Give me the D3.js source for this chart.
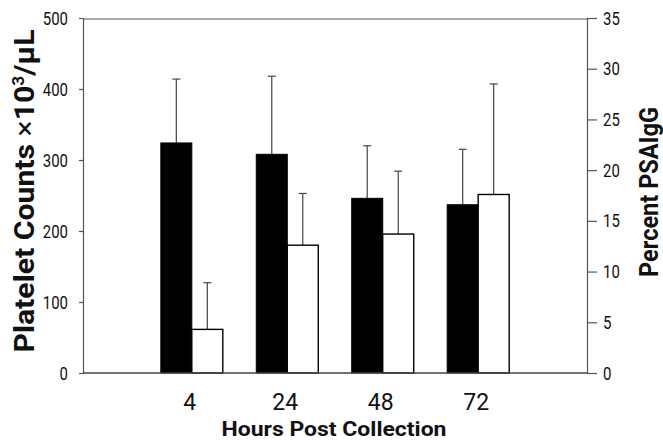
<!DOCTYPE html>
<html>
<head>
<meta charset="utf-8">
<script src="https://cdn.jsdelivr.net/npm/d3@7"></script>
<style>
  body { margin: 0; background: #fff; }
  text { font-family: Roboto, "Liberation Sans", sans-serif; fill: #111; }
</style>
</head>
<body>
<div id="chart"></div>
<script>
// hours post collection
var hours = ["4", "24", "48", "72"];
// platelet counts (x10^3/uL), black bars, left axis
var platelets = [324, 308, 246, 237];
var plateletsErr = [90, 110, 74, 78];
// percent PSAIgG, white bars, right axis
var psaigg = [4.3, 12.6, 13.7, 17.6];
var psaiggErr = [4.6, 5.1, 6.2, 10.9];
var leftTicks = [0, 100, 200, 300, 400, 500];
var rightTicks = [0, 5, 10, 15, 20, 25, 30, 35];

var width = 663, height = 440;
var mLeft = 83, mRight = 587, mTop = 18, mBottom = 373;
var barW = 31;

var svg = d3.select("#chart").append("svg")
  .attr("width", width)
  .attr("height", height);

var x = d3.scalePoint().domain(hours).range([mLeft, mRight]).padding(1.14);
var yL = d3.scaleLinear().domain([0, 500]).range([mBottom, mTop]);
var yR = d3.scaleLinear().domain([0, 35]).range([mBottom, mTop]);

// frame line on top
svg.append("line")
  .attr("x1", mLeft).attr("x2", mRight)
  .attr("y1", mTop + 1).attr("y2", mTop + 1)
  .attr("stroke", "#555").attr("stroke-width", 1.2);

// left axis
var gL = svg.append("g")
  .attr("transform", "translate(" + mLeft + ",0)")
  .call(d3.axisLeft(yL).tickValues(leftTicks).tickSize(4).tickPadding(11).tickSizeOuter(0));

// right axis
var gR = svg.append("g")
  .attr("transform", "translate(" + mRight + ",0)")
  .call(d3.axisRight(yR).tickValues(rightTicks).tickSize(10).tickPadding(6).tickSizeOuter(0));

// narrow tick labels like the condensed face of the original
svg.selectAll(".tick text")
  .style("font-size", "19px")
  .attr("textLength", function () { return this.textContent.length * 8.4; })
  .attr("lengthAdjust", "spacingAndGlyphs");

svg.selectAll(".domain").attr("stroke", "#555").attr("stroke-width", 1.2);
svg.selectAll(".tick line").attr("stroke", "#555").attr("stroke-width", 1.2);

// error bars (drawn first, bars sit on top)
function errBars(vals, errs, scale, offset) {
  var g = svg.append("g");
  g.selectAll("line.v")
    .data(vals)
    .enter()
    .append("line")
    .attr("x1", (d, i) => x(hours[i]) + offset)
    .attr("x2", (d, i) => x(hours[i]) + offset)
    .attr("y1", d => scale(d))
    .attr("y2", (d, i) => scale(d + errs[i]))
    .attr("stroke", "#444")
    .attr("stroke-width", 1.2);
  g.selectAll("line.c")
    .data(vals)
    .enter()
    .append("line")
    .attr("x1", (d, i) => x(hours[i]) + offset - 4)
    .attr("x2", (d, i) => x(hours[i]) + offset + 4)
    .attr("y1", (d, i) => scale(d + errs[i]))
    .attr("y2", (d, i) => scale(d + errs[i]))
    .attr("stroke", "#444")
    .attr("stroke-width", 1.2);
}
errBars(platelets, plateletsErr, yL, -barW / 2);
errBars(psaigg, psaiggErr, yR, barW / 2);

// black bars
svg.append("g")
  .selectAll("rect")
  .data(platelets)
  .enter()
  .append("rect")
  .attr("x", (d, i) => x(hours[i]) - barW)
  .attr("y", d => yL(d))
  .attr("width", barW)
  .attr("height", d => mBottom - yL(d))
  .attr("fill", "#000")
  .attr("stroke", "#000");

// white bars
svg.append("g")
  .selectAll("rect")
  .data(psaigg)
  .enter()
  .append("rect")
  .attr("x", (d, i) => x(hours[i]))
  .attr("y", d => yR(d))
  .attr("width", barW)
  .attr("height", d => mBottom - yR(d))
  .attr("fill", "#fff")
  .attr("stroke", "#000")
  .attr("stroke-width", 1.4);

// baseline
svg.append("line")
  .attr("x1", mLeft).attr("x2", mRight)
  .attr("y1", mBottom).attr("y2", mBottom)
  .attr("stroke", "#444").attr("stroke-width", 1.4);

// category labels
svg.append("g")
  .selectAll("text")
  .data(hours)
  .enter()
  .append("text")
  .attr("x", d => x(d) - 2)
  .attr("y", 410)
  .attr("text-anchor", "middle")
  .style("font-size", "23px")
  .text(d => d);

// axis titles
svg.append("text")
  .attr("x", 334).attr("y", 436)
  .attr("text-anchor", "middle")
  .attr("textLength", 225)
  .attr("lengthAdjust", "spacingAndGlyphs")
  .style("font-size", "21px")
  .style("font-weight", "bold")
  .text("Hours Post Collection");

svg.append("text")
  .attr("transform", "translate(34,191) rotate(-90)")
  .attr("text-anchor", "middle")
  .attr("textLength", 323)
  .attr("lengthAdjust", "spacingAndGlyphs")
  .style("font-size", "28px")
  .style("font-weight", "bold")
  .html("Platelet Counts <tspan font-weight='normal'>×</tspan>10<tspan dy='-10' font-size='16px'>3</tspan><tspan dy='10'>/μL</tspan>");

svg.append("text")
  .attr("transform", "translate(658,192) rotate(-90)")
  .attr("text-anchor", "middle")
  .attr("textLength", 170)
  .attr("lengthAdjust", "spacingAndGlyphs")
  .style("font-size", "26px")
  .style("font-weight", "bold")
  .text("Percent PSAIgG");
</script>
</body>
</html>
